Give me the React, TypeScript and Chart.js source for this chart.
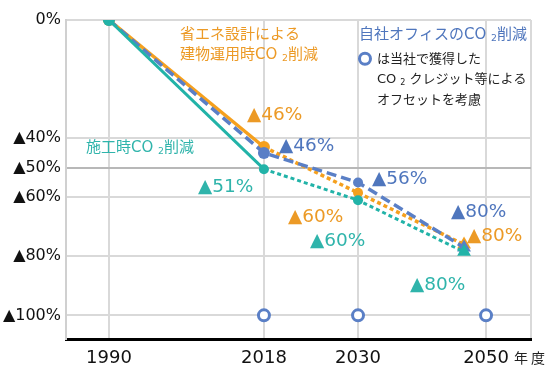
import { useEffect, useRef } from 'react';
import { Chart, registerables } from 'chart.js';

Chart.register(...registerables);

// ---- data ----
const years = ['1990', '2018', '2030', '2050'];
// position of each year column on the (non-proportional) horizontal axis, in axis units
const yearAxisPos = [2.77, 12.77, 18.84, 27.1];
// the 2050 target markers sit a little left of the 2050 column
const targetAxisPos = 25.68;
const xAxisMax = 30;

const yTickValues = [0, 40, 50, 60, 80, 100];
const yTickLabels = ['0%', '▲40%', '▲50%', '▲60%', '▲80%', '▲100%'];
const yAxisMax = 108;

// reduction (%) at 1990, 2018, 2030, 2050 target
const constructionCut = [0, 50.5, 61, 78.5]; // 施工時CO2削減 (teal)
const officeCut = [0, 45, 55, 77]; // 自社オフィスのCO2削減 (blue)
const operationCut = [0, 43, 58.5, 76]; // 建物運用時CO2削減 (orange)
const offsetCircleYears = ['2018', '2030', '2050'];
const offsetCircleCut = [100, 100, 100];

const TEAL = '#22B3A8';
const BLUE = '#5A7FC6';
const ORANGE = '#F5A01E';
const ORANGE_TXT = '#EC9A26';
const BLUE_TXT = '#4F76BD';
const TEAL_TXT = '#2FB4AB';

const NUM_FONT = '"DejaVu Sans", "Noto Sans CJK JP", sans-serif';
const JP_FONT = '"DejaVu Sans", "Noto Sans CJK JP", sans-serif';

type Seg = { t: string; sub?: boolean };
type Annot = { x: number; y: number; color: string; size: number; segs: Seg[] };

const pctLabel = (x: number, y: number, color: string, v: string): Annot => ({
  x, y, color, size: 18.5, segs: [{ t: '▲' + v + '%' }],
});

const annotations: Annot[] = [
  { x: 7.35, y: 4.6, color: ORANGE_TXT, size: 15, segs: [{ t: '省エネ設計による' }] },
  { x: 7.35, y: 11.24, color: ORANGE_TXT, size: 15, segs: [{ t: '建物運用時CO' }, { t: ' ' }, { t: '2', sub: true }, { t: '削減' }] },
  { x: 18.9, y: 4.6, color: BLUE_TXT, size: 15, segs: [{ t: '自社オフィスのCO' }, { t: ' ' }, { t: '2', sub: true }, { t: '削減' }] },
  { x: 20.06, y: 13.1, color: '#222', size: 13, segs: [{ t: 'は当社で獲得した' }] },
  { x: 20.06, y: 19.9, color: '#222', size: 13, segs: [{ t: 'CO ' }, { t: '2', sub: true }, { t: ' クレジット等による' }] },
  { x: 20.06, y: 26.7, color: '#222', size: 13, segs: [{ t: 'オフセットを考慮' }] },
  { x: 1.29, y: 42.76, color: TEAL_TXT, size: 15, segs: [{ t: '施工時CO' }, { t: ' ' }, { t: '2', sub: true }, { t: '削減' }] },
  pctLabel(11.68, 31.5, ORANGE_TXT, '46'),
  pctLabel(13.74, 42.1, BLUE_TXT, '46'),
  pctLabel(8.52, 56.0, TEAL_TXT, '51'),
  pctLabel(19.74, 53.3, BLUE_TXT, '56'),
  pctLabel(14.32, 66.3, ORANGE_TXT, '60'),
  pctLabel(15.74, 74.1, TEAL_TXT, '60'),
  pctLabel(24.84, 64.6, BLUE_TXT, '80'),
  pctLabel(25.87, 72.4, ORANGE_TXT, '80'),
  pctLabel(22.19, 89.1, TEAL_TXT, '80'),
];
const legendCircle = { x: 19.29, y: 13.1 };

const linePos = [yearAxisPos[0], yearAxisPos[1], yearAxisPos[2], targetAxisPos];
const toPts = (vals: number[]) => vals.map((v, i) => ({ x: linePos[i], y: v }));

const annotPlugin = {
  id: 'annot',
  afterDatasetsDraw(chart: any) {
    const { ctx, scales } = chart;
    const xs = scales.x;
    const ys = scales.y;
    ctx.save();
    ctx.textBaseline = 'alphabetic';
    ctx.textAlign = 'left';
    for (const a of annotations) {
      let px = xs.getPixelForValue(a.x);
      const base = ys.getPixelForValue(a.y) + a.size * 0.36;
      ctx.fillStyle = a.color;
      for (const s of a.segs) {
        const size = s.sub ? a.size * 0.62 : a.size;
        ctx.font = `${size}px ${s.sub ? NUM_FONT : JP_FONT}`;
        ctx.fillText(s.t, px, base + (s.sub ? 2 : 0));
        px += ctx.measureText(s.t).width;
      }
    }
    // legend circle
    ctx.beginPath();
    ctx.strokeStyle = BLUE;
    ctx.lineWidth = 3;
    ctx.arc(xs.getPixelForValue(legendCircle.x), ys.getPixelForValue(legendCircle.y), 5.5, 0, Math.PI * 2);
    ctx.stroke();
    // 年度 unit
    ctx.fillStyle = '#222';
    ctx.font = `14px ${JP_FONT}`;
    (ctx as any).letterSpacing = '3px';
    ctx.fillText('年度', xs.getPixelForValue(yearAxisPos[3]) + 28, chart.chartArea.bottom + 24);
    ctx.restore();
  },
};

const dotted = (c: any) => (c.p0DataIndex >= 1 ? [4, 3] : undefined);

export default function App() {
  const ref = useRef<HTMLCanvasElement>(null);
  useEffect(() => {
    if (!ref.current) return;
    const markerStyle = ['circle', 'circle', 'circle', 'triangle'];
    const chart = new Chart(ref.current, {
      type: 'line',
      data: {
        datasets: [
          {
            label: '施工時CO2削減',
            data: toPts(constructionCut),
            borderColor: TEAL,
            backgroundColor: TEAL,
            borderWidth: 3,
            segment: { borderDash: dotted },
            pointStyle: markerStyle as any,
            pointRadius: [6, 5, 5, 8],
            pointBorderWidth: 0,
          },
          {
            label: '自社オフィスのCO2削減',
            data: toPts(officeCut),
            borderColor: BLUE,
            backgroundColor: BLUE,
            borderWidth: 3.5,
            borderDash: [10, 5],
            pointStyle: markerStyle as any,
            pointRadius: [5.5, 6, 5, 8],
            pointBorderWidth: 0,
          },
          {
            label: '建物運用時CO2削減',
            data: toPts(operationCut),
            borderColor: ORANGE,
            backgroundColor: ORANGE,
            borderWidth: 3.5,
            segment: { borderDash: dotted },
            pointStyle: markerStyle as any,
            pointRadius: [6, 6, 5, 8],
            pointBorderWidth: 0,
          },
          {
            label: 'オフセット',
            data: offsetCircleCut.map((v, i) => ({ x: yearAxisPos[years.indexOf(offsetCircleYears[i])], y: v })),
            showLine: false,
            borderColor: BLUE,
            backgroundColor: '#ffffff',
            pointRadius: 5.5,
            pointBorderWidth: 3,
          },
        ],
      },
      options: {
        responsive: false,
        animation: false,
        devicePixelRatio: 1,
        layout: { padding: { top: 20, right: 19, left: 0, bottom: 0 } },
        plugins: { legend: { display: false }, tooltip: { enabled: false } },
        events: [],
        scales: {
          x: {
            type: 'linear',
            min: 0,
            max: xAxisMax,
            afterBuildTicks: (s: any) => {
              s.ticks = [...yearAxisPos, xAxisMax].map((v) => ({ value: v }));
            },
            afterFit: (s: any) => {
              s.height = 43;
            },
            ticks: {
              autoSkip: false,
              maxRotation: 0,
              padding: 9,
              color: '#111',
              font: { family: NUM_FONT, size: 18 },
              callback: (_v: any, i: number) => years[i] ?? '',
            },
            grid: { color: '#d9d9d9', lineWidth: 2, drawTicks: false },
            border: { color: '#000', width: 3 },
          },
          y: {
            type: 'linear',
            reverse: true,
            min: 0,
            max: yAxisMax,
            afterBuildTicks: (s: any) => {
              s.ticks = yTickValues.map((v) => ({ value: v }));
            },
            afterFit: (s: any) => {
              s.width = 66;
            },
            ticks: {
              autoSkip: false,
              padding: 5,
              color: '#111',
              font: { family: NUM_FONT, size: 16 },
              callback: (_v: any, i: number) => yTickLabels[i] ?? '',
            },
            grid: {
              color: (c: any) => (c.tick && c.tick.value === 50 ? '#b8b8b8' : '#d9d9d9'),
              lineWidth: 2,
              drawTicks: false,
            },
            border: { color: '#d0d0d0', width: 2 },
          },
        },
      },
      plugins: [annotPlugin],
    } as any);
    return () => chart.destroy();
  }, []);
  return (
    <div style={{ position: 'fixed', left: 0, top: 0, width: 550, height: 382, background: '#fff' }}>
      <canvas ref={ref} width={550} height={382} />
    </div>
  );
}
